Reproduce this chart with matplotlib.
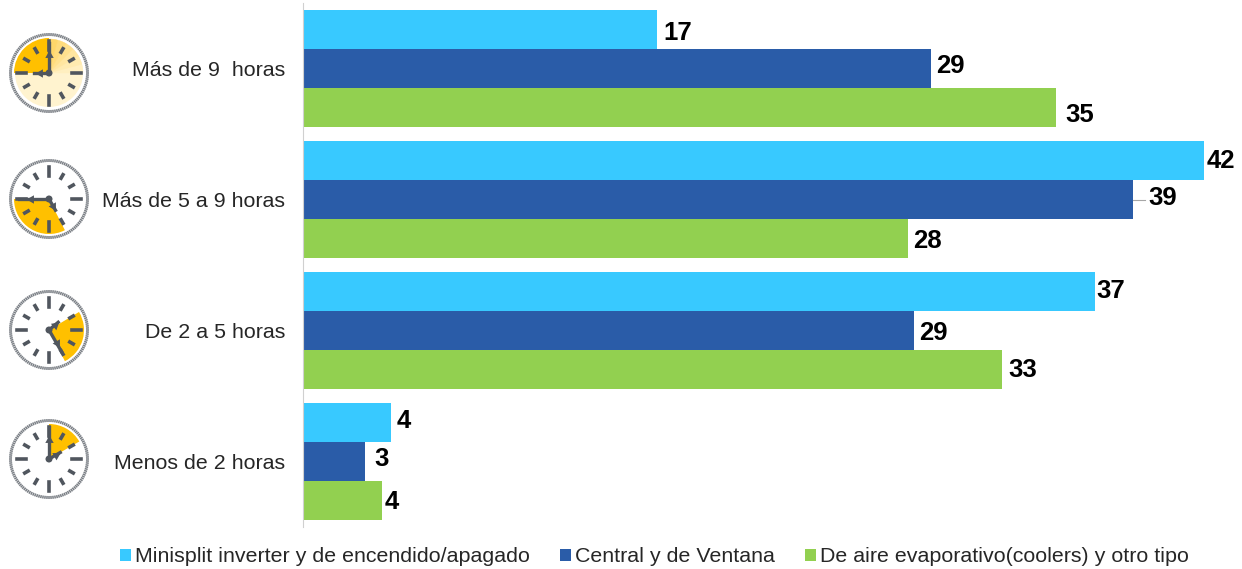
import numpy as np
import matplotlib.pyplot as plt
from matplotlib.patches import Wedge, Circle

plt.rcParams['font.family'] = ['Liberation Sans', 'DejaVu Sans']

categorias = ['Más de 9  horas', 'Más de 5 a 9 horas', 'De 2 a 5 horas', 'Menos de 2 horas']
series = ['Minisplit inverter y de encendido/apagado', 'Central y de Ventana',
          'De aire evaporativo(coolers) y otro tipo']
minisplit = [16.5, 42, 36.9, 4.1]
central = [29.3, 38.7, 28.5, 2.9]
evaporativo = [35.1, 28.2, 32.6, 3.7]
etiq_minisplit = ['17', '42', '37', '4']
etiq_central = ['29', '39', '29', '3']
etiq_evaporativo = ['35', '28', '33', '4']
colores = ['#38C9FF', '#2A5CA8', '#92D050']

# sector naranja de cada reloj (grados) y manecillas (angulo, largo en px)
sectores = [(90, 180), (180, 297), (297, 391), (30, 90)]
manecillas = [[(180, 15), (90, 30)], [(180, 30), (300, 13)], [(300, 25), (40, 12)], [(90, 32), (30, 13)]]
centros_y = [73, 199, 330, 459]

# ajuste manual de las etiquetas respecto al final de la barra (px), como en el original
nudge_x = [[6, 3, 2, 6], [5, 15, 5, 9], [9, 5, 6, 2]]
nudge_y = [[3.5, 0.5, 0, -1.5], [-2.5, -1.5, 2.5, -2.5], [7, 2, 0.5, 1.5]]

W, H = 1242, 569
GRIS = '#50565E'


def reloj(ax, cy, sector, manos, relleno=False):
    cx = 49
    if relleno:
        # fondo claro con degradado en el cuadrante superior derecho
        ax.add_patch(Circle((cx, cy), 34, fc='#FFF3CF', ec='none'))
        tonos = ['#FFEFC0', '#FFEBB0', '#FFE6A0', '#FFE18E', '#FFDC7C', '#FFD76A']
        for d, c in zip(range(0, 90, 15), tonos):
            ax.add_patch(Wedge((cx, cy), 34, -(d + 15), -d, fc=c, ec=c, lw=0.3))
    # en pixeles el eje y va hacia abajo: se invierten los angulos
    ax.add_patch(Wedge((cx, cy), 35, -sector[1], -sector[0], fc='#FFC000', ec='none'))
    for a in np.arange(0, 360, 3):
        t = np.radians(a)
        ax.plot([cx + 37 * np.cos(t), cx + 40 * np.cos(t)], [cy + 37 * np.sin(t), cy + 40 * np.sin(t)],
                color='#7A7F85', lw=1.1, solid_capstyle='butt')
    for a in range(0, 360, 30):
        t = np.radians(a)
        r0, r1 = (23, 32) if a % 90 == 0 else (24, 28)
        ax.plot([cx + r0 * np.cos(t), cx + r1 * np.cos(t)], [cy + r0 * np.sin(t), cy + r1 * np.sin(t)],
                color=GRIS, lw=2.6)
    for m, r in manos:
        t = np.radians(m)
        ax.plot([cx, cx + r * np.cos(t)], [cy, cy - r * np.sin(t)], color=GRIS, lw=2.4)
        ax.plot([cx + r * 0.6 * np.cos(t)], [cy - r * 0.6 * np.sin(t)], marker=(3, 0, m - 90), ms=7,
                color=GRIS, mew=0)
    ax.add_patch(Circle((cx, cy), 3.5, fc=GRIS, ec='none', zorder=5))


fig = plt.figure(figsize=(W / 100, H / 100), dpi=100, facecolor='white')
ax = fig.add_axes([303 / W, 1 - 527 / H, (W - 303) / W, 524 / H])
ax.set_xlim(0, (W - 303) / 21.45)
ax.set_ylim(3.5, -0.5)

alto = 39 / 131
y = np.arange(len(categorias))
valores = [minisplit, central, evaporativo]
etiquetas = [etiq_minisplit, etiq_central, etiq_evaporativo]
for i in range(3):
    pos = y + (i - 1) * alto
    ax.barh(pos, valores[i], height=alto, color=colores[i], label=series[i])
    for j, (p, v, e) in enumerate(zip(pos, valores[i], etiquetas[i])):
        if e == '39':
            ax.plot([v, v + 0.55], [p, p], color='#A6A6A6', lw=0.8)
        ax.annotate(e, (v, p), xytext=(nudge_x[i][j] * 0.72, -nudge_y[i][j] * 0.72), textcoords='offset points',
                    va='center', ha='left', fontsize=18.5, fontweight='bold', color='black')

ax.set_yticks(y)
ax.set_yticklabels(categorias, fontsize=15.4, color='#262626')
ax.tick_params(axis='y', length=0, pad=13)
ax.set_xticks([])
for s in ['top', 'right', 'bottom']:
    ax.spines[s].set_visible(False)
ax.spines['left'].set_color('#D0D0D0')
ax.spines['left'].set_linewidth(0.8)

leg = fig.legend(loc='center left', bbox_to_anchor=(120 / W, 1 - 557 / H), ncol=3, frameon=False, fontsize=15.4,
                 borderpad=0, borderaxespad=0, handlelength=0.51, handleheight=0.51, handletextpad=0.19,
                 columnspacing=1.41, labelcolor='#262626')

# capa en pixeles para los relojes
ov = fig.add_axes([0, 0, 1, 1], facecolor='none')
ov.set_xlim(0, W)
ov.set_ylim(H, 0)
ov.axis('off')
for k in range(4):
    reloj(ov, centros_y[k], sectores[k], manecillas[k], relleno=(k == 0))

fig.savefig('out.png', dpi=100)
